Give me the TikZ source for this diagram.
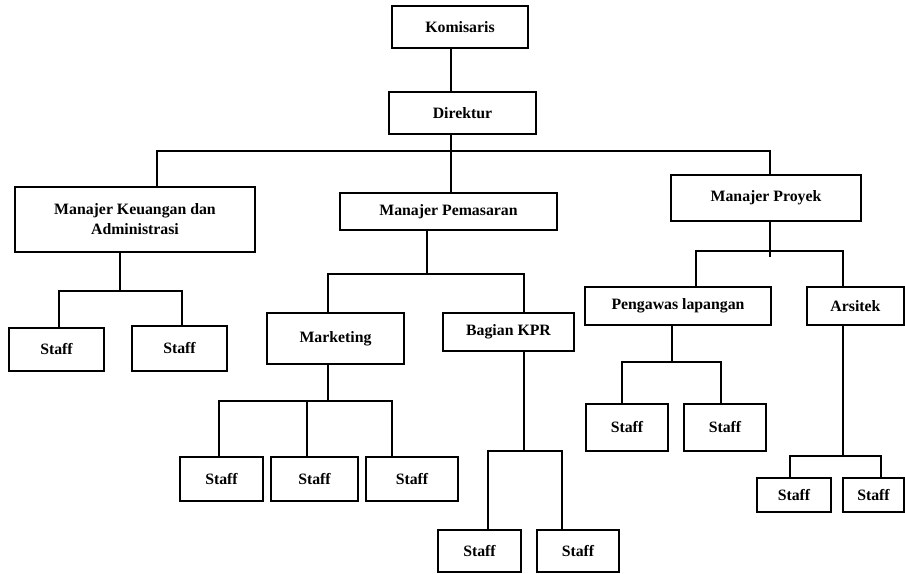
\documentclass[tikz,border=0pt]{standalone}
\usepackage{fontspec}
\setmainfont{Liberation Serif}

\begin{document}
\begin{tikzpicture}[x=1pt, y=-1pt, line width=1.6pt,
        box/.style={draw, rectangle, inner sep=0pt, align=center,
            font=\bfseries\fontsize{15.8}{20}\selectfont}]
        \useasboundingbox (0,0) rectangle (905,573);

        \node[box, minimum width=136, minimum height=42] (kom) at (460,27) {Komisaris};
        \node[box, minimum width=147, minimum height=42] (dir) at (462.5,113) {Direktur};

        \node[box, minimum width=240, minimum height=65] (mka) at (135,219.5) {Manajer Keuangan dan\\Administrasi};
        \node[box, minimum width=217, minimum height=37] (mp) at (448.5,211.5) {Manajer Pemasaran};
        \node[box, minimum width=190, minimum height=46] (mpr) at (766,198) {Manajer Proyek};

        \node[box, minimum width=95, minimum height=43] (a1) at (56.5,349.5) {Staff};
        \node[box, minimum width=95, minimum height=45] (a2) at (179.5,348.5) {Staff};

        \node[box, minimum width=137, minimum height=51] (mkt) at (335.5,338.5) {Marketing};
        \node[box, minimum width=131, minimum height=38] (kpr) at (508.5,332) {Bagian KPR};
        \node[box, minimum width=186, minimum height=38] (peng) at (678,306) {Pengawas lapangan};
        \node[box, minimum width=97, minimum height=38] (ars) at (855.5,306) {Arsitek};

        \node[box, minimum width=83, minimum height=44] (m1) at (221.5,479) {Staff};
        \node[box, minimum width=87, minimum height=44] (m2) at (314.5,479) {Staff};
        \node[box, minimum width=92, minimum height=44] (m3) at (412,479) {Staff};

        \node[box, minimum width=83, minimum height=42] (k1) at (479.5,551) {Staff};
        \node[box, minimum width=82, minimum height=42] (k2) at (578,551) {Staff};

        \node[box, minimum width=82, minimum height=47] (p1) at (627,427.5) {Staff};
        \node[box, minimum width=82, minimum height=47] (p2) at (725,427.5) {Staff};

        \node[box, minimum width=74, minimum height=34] (r1) at (794,495) {Staff};
        \node[box, minimum width=61, minimum height=34] (r2) at (873.5,495) {Staff};

        \coordinate (t) at (451,151);
        \coordinate (tl) at (157,151);
        \coordinate (tr) at (770,151);
        \draw (kom.south -| t) -- (dir.north -| t);
        \draw (dir.south -| t) -- (t |- mp.north);
        \draw (tl |- mka.north) -- (tl) -- (tr) -- (tr |- mpr.north);

        \coordinate (a) at (120,291);
        \coordinate (al) at (59,291);
        \coordinate (ar) at (182,291);
        \draw (mka.south -| a) -- (a);
        \draw (a1.north -| al) -- (al) -- (ar) -- (ar |- a2.north);

        \coordinate (b) at (427,274);
        \coordinate (bl) at (328,274);
        \coordinate (br) at (524,274);
        \draw (mp.south -| b) -- (b);
        \draw (mkt.north -| bl) -- (bl) -- (br) -- (br |- kpr.north);

        \coordinate (c) at (328,401);
        \coordinate (cl) at (219,401);
        \coordinate (cm) at (307,401);
        \coordinate (cr) at (392,401);
        \draw (mkt.south -| c) -- (c);
        \draw (m1.north -| cl) -- (cl) -- (cr) -- (cr |- m3.north);
        \draw (cm) -- (cm |- m2.north);

        \coordinate (d) at (524,451);
        \coordinate (dl) at (488,451);
        \coordinate (dr) at (562,451);
        \draw (kpr.south -| d) -- (d);
        \draw (k1.north -| dl) -- (dl) -- (dr) -- (dr |- k2.north);

        \coordinate (e) at (770,251);
        \coordinate (el) at (696,251);
        \coordinate (er) at (843,251);
        \draw (mpr.south -| e) -- ([yshift=-6pt]e);
        \draw (peng.north -| el) -- (el) -- (er) -- (er |- ars.north);

        \coordinate (f) at (672,362);
        \coordinate (fl) at (622,362);
        \coordinate (fr) at (721,362);
        \draw (peng.south -| f) -- (f);
        \draw (p1.north -| fl) -- (fl) -- (fr) -- (fr |- p2.north);

        \coordinate (g) at (843,456);
        \coordinate (gl) at (790,456);
        \coordinate (gr) at (881,456);
        \draw (ars.south -| g) -- (g);
        \draw (r1.north -| gl) -- (gl) -- (gr) -- (gr |- r2.north);
    \end{tikzpicture}
\end{document}
